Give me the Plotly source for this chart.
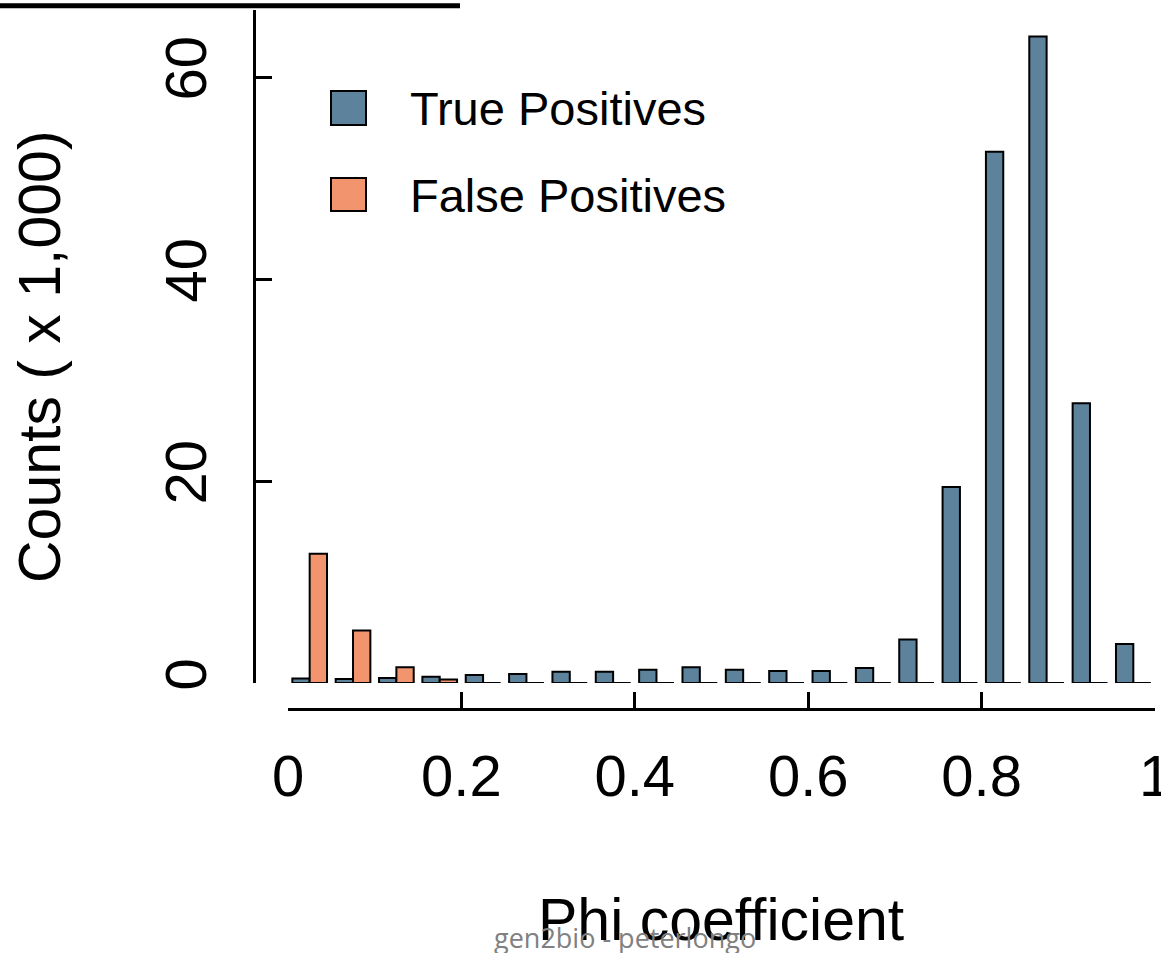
import plotly.graph_objects as go

# ---- data (counts x 1,000) ----
bin_centers = [0.025, 0.075, 0.125, 0.175, 0.225, 0.275, 0.325, 0.375, 0.425, 0.475,
               0.525, 0.575, 0.625, 0.675, 0.725, 0.775, 0.825, 0.875, 0.925, 0.975]
true_pos = [0.45, 0.4, 0.5, 0.62, 0.8, 0.9, 1.12, 1.12, 1.32, 1.55,
            1.32, 1.19, 1.19, 1.49, 4.3, 19.4, 52.6, 64.0, 27.7, 3.86]
false_pos = [12.8, 5.2, 1.55, 0.35, 0, 0, 0, 0, 0, 0,
             0, 0, 0, 0, 0, 0, 0, 0, 0, 0]
x_tick_vals = [0, 0.2, 0.4, 0.6, 0.8, 1.0]
x_tick_text = ["0", "0.2", "0.4", "0.6", "0.8", "1"]
y_tick_vals = [0, 20, 40, 60]
series_names = ["True Positives", "False Positives"]

TP_COLOR = "#5d829c"
FP_COLOR = "#f2956f"
FONT = "Liberation Sans, Arial, Helvetica, sans-serif"

W, H = 1161, 953
ML, MR, MT, MB = 254, 0, 10, 244
PW, PH = W - ML - MR, H - MT - MB


def px(xp):
    return (xp - ML) / PW


def py(yp):
    return (H - MB - yp) / PH


bin_width = 0.05
bargap = 0.2
bar_w = bin_width * (1 - bargap) / 2

fig = go.Figure()
fig.add_trace(go.Bar(x=bin_centers, y=true_pos, name=series_names[0],
                     marker=dict(color=TP_COLOR, line=dict(color="black", width=2))))
fig.add_trace(go.Bar(x=bin_centers, y=false_pos, name=series_names[1],
                     marker=dict(color=FP_COLOR, line=dict(color="black", width=2))))

# zero-height bars drawn as baseline segments (as R barplot does)
seg_x, seg_y = [], []
for c, v in zip(bin_centers, true_pos):
    if v == 0:
        seg_x += [c - bar_w, c, None]
        seg_y += [0, 0, None]
for c, v in zip(bin_centers, false_pos):
    if v == 0:
        seg_x += [c, c + bar_w, None]
        seg_y += [0, 0, None]
fig.add_trace(go.Scatter(x=seg_x, y=seg_y, mode="lines",
                         line=dict(color="black", width=2), hoverinfo="skip",
                         showlegend=False))

ymax = (H - MB - 26 - MT) / 10.1  # keep 10.1 px per unit

fig.update_layout(
    width=W, height=H,
    margin=dict(l=ML, r=MR, t=MT, b=MB, pad=0, autoexpand=False),
    paper_bgcolor="white", plot_bgcolor="white",
    barmode="group", bargap=bargap, bargroupgap=0,
    showlegend=False,
    font=dict(family=FONT, size=58, color="black"),
    xaxis=dict(
        domain=[px(288), px(1155)], range=[0, 1],
        anchor="free", position=0, automargin=False,
        tickmode="array", tickvals=x_tick_vals, ticktext=x_tick_text,
        ticks="inside", ticklen=16, tickwidth=3, tickcolor="black",
        showline=True, linecolor="black", linewidth=3,
        showgrid=False, zeroline=False,
        tickfont=dict(size=58, family=FONT),
        ticklabelstandoff=15,
        ticklabeloverflow="allow",
    ),
    yaxis=dict(
        domain=[26 / PH, 1], range=[0, ymax],
        anchor="free", position=0, automargin=False,
        tickmode="array", tickvals=y_tick_vals,
        ticks="inside", ticklen=16, tickwidth=3, tickcolor="black",
        showline=True, linecolor="black", linewidth=3,
        showgrid=False, zeroline=False,
        tickangle=-90,
        tickfont=dict(size=58, family=FONT),
        ticklabelstandoff=24,
    ),
)

shapes = [
    # legend keys
    dict(type="rect", xref="paper", yref="paper",
         x0=px(331), x1=px(366), y0=py(125), y1=py(91),
         fillcolor=TP_COLOR, line=dict(color="black", width=2)),
    dict(type="rect", xref="paper", yref="paper",
         x0=px(331), x1=px(366), y0=py(211), y1=py(178),
         fillcolor=FP_COLOR, line=dict(color="black", width=2)),
    # cropped title underline at the very top
    dict(type="line", xref="paper", yref="paper",
         x0=px(0), x1=px(460), y0=py(5.8), y1=py(5.8),
         line=dict(color="black", width=5)),
]
fig.update_layout(shapes=shapes)

annotations = [
    dict(text=series_names[0], xref="paper", yref="paper", x=px(408), y=py(108),
         xanchor="left", yanchor="middle", showarrow=False,
         font=dict(size=47, family=FONT, color="black")),
    dict(text=series_names[1], xref="paper", yref="paper", x=px(408), y=py(195),
         xanchor="left", yanchor="middle", showarrow=False,
         font=dict(size=47, family=FONT, color="black")),
    dict(text="Phi coefficient", xref="paper", yref="paper", x=px(721), y=py(920),
         xanchor="center", yanchor="middle", showarrow=False,
         font=dict(size=59, family=FONT, color="black")),
    dict(text="Counts ( x 1,000)", xref="paper", yref="paper", x=px(40), y=py(357),
         xanchor="center", yanchor="middle", showarrow=False, textangle=-90,
         font=dict(size=59, family=FONT, color="black")),
    dict(text="gen2bio - peterlongo", xref="paper", yref="paper", x=px(625), y=py(938),
         xanchor="center", yanchor="middle", showarrow=False,
         font=dict(size=27, family="Open Sans, sans-serif", color="#808080")),
]
fig.update_layout(annotations=annotations)

fig.write_html("out.html")
